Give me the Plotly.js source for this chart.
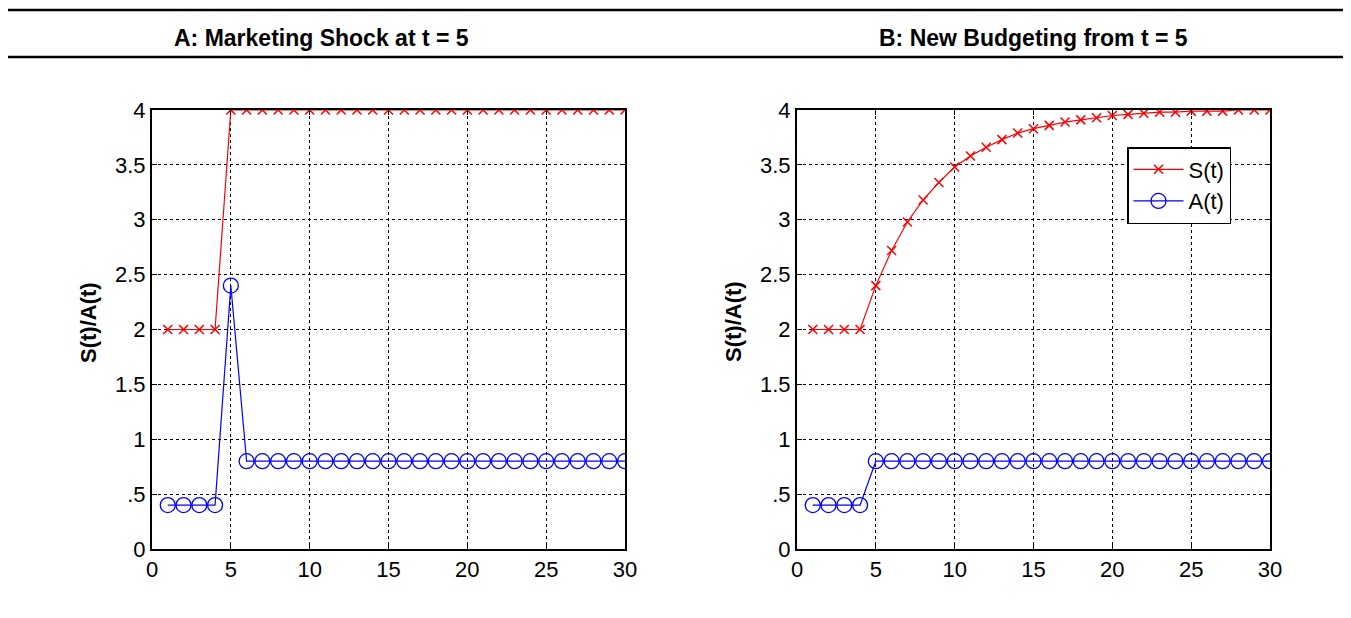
<!DOCTYPE html>
<html>
<head>
<meta charset="utf-8">
<script src="https://cdn.plot.ly/plotly-3.0.1.min.js"></script>
<style>html,body{margin:0;padding:0;background:#fff;}#chart{width:1351px;height:618px;}</style>
</head>
<body>
<div id="chart"></div>
<script>
const t = [1,2,3,4,5,6,7,8,9,10,11,12,13,14,15,16,17,18,19,20,21,22,23,24,25,26,27,28,29,30];
const sA = [2,2,2,2,4,4,4,4,4,4,4,4,4,4,4,4,4,4,4,4,4,4,4,4,4,4,4,4,4,4];
const aA = [0.4,0.4,0.4,0.4,2.4,0.8,0.8,0.8,0.8,0.8,0.8,0.8,0.8,0.8,0.8,0.8,0.8,0.8,0.8,0.8,0.8,0.8,0.8,0.8,0.8,0.8,0.8,0.8,0.8,0.8];
const sB = [2,2,2,2,2.4,2.72,2.98,3.18,3.34,3.48,3.58,3.66,3.73,3.79,3.83,3.86,3.89,3.91,3.93,3.95,3.96,3.97,3.98,3.98,3.99,3.99,3.99,4,4,4];
const aB = [0.4,0.4,0.4,0.4,0.8,0.8,0.8,0.8,0.8,0.8,0.8,0.8,0.8,0.8,0.8,0.8,0.8,0.8,0.8,0.8,0.8,0.8,0.8,0.8,0.8,0.8,0.8,0.8,0.8,0.8];
const xTicks = [0,5,10,15,20,25,30];
const yTicks = [0,0.5,1,1.5,2,2.5,3,3.5,4];
const yTickText = ['0','.5','1','1.5','2','2.5','3','3.5','4'];
const panelTitles = ['A: Marketing Shock at t = 5','B: New Budgeting from t = 5'];
const yTitle = 'S(t)/A(t)';
const seriesNames = ['S(t)','A(t)'];

const W = 1351, H = 618;
const px = v => v / W, py = v => 1 - v / H;
const FONT = 'Liberation Sans, Arial, Helvetica, sans-serif';

const sStyle = {mode:'lines+markers', line:{color:'#ff0000', width:1.2}, marker:{symbol:'x-thin-open', size:9, color:'#ff0000', line:{color:'#ff0000', width:1.5}}};
const aStyle = {mode:'lines+markers', line:{color:'#0000ff', width:1.2}, marker:{symbol:'circle-open', size:15, color:'#0000ff', line:{color:'#0000ff', width:1.3}}};

const traces = [
  Object.assign({x:t, y:sA, name:seriesNames[0], xaxis:'x', yaxis:'y', showlegend:false}, sStyle),
  Object.assign({x:t, y:aA, name:seriesNames[1], xaxis:'x', yaxis:'y', showlegend:false}, aStyle),
  Object.assign({x:t, y:sB, name:seriesNames[0], xaxis:'x2', yaxis:'y2', showlegend:true}, sStyle),
  Object.assign({x:t, y:aB, name:seriesNames[1], xaxis:'x2', yaxis:'y2', showlegend:true}, aStyle)
];

function xax(dom, anchor){
  return {domain:dom, anchor:anchor, range:[0,30], tickvals:xTicks, ticks:'inside', ticklen:5, tickcolor:'#000',
    showline:true, linecolor:'#000', linewidth:2, mirror:'ticks', showgrid:true, gridcolor:'#000', griddash:'dot', gridwidth:1,
    zeroline:false, tickfont:{family:FONT, size:22, color:'#000'}, fixedrange:true};
}
function yax(anchor){
  return {domain:[py(549), py(110)], anchor:anchor, range:[0,4], tickvals:yTicks, ticktext:yTickText, ticks:'inside', ticklen:5, tickcolor:'#000',
    showline:true, linecolor:'#000', linewidth:2, mirror:'ticks', showgrid:true, gridcolor:'#000', griddash:'dot', gridwidth:1,
    zeroline:false, tickfont:{family:FONT, size:22, color:'#000'}, fixedrange:true};
}

const layout = {
  width:W, height:H, margin:{l:0,r:0,t:0,b:0}, paper_bgcolor:'#fff', plot_bgcolor:'#fff',
  font:{family:FONT, color:'#000'},
  xaxis: xax([px(152), px(625)], 'y'),
  yaxis: yax('x'),
  xaxis2: xax([px(797), px(1270)], 'y2'),
  yaxis2: yax('x2'),
  showlegend:true,
  legend:{x:px(1127), y:py(147), xanchor:'left', yanchor:'top', xref:'paper', yref:'paper', bgcolor:'#fff', bordercolor:'#000', borderwidth:1.5,
    font:{family:FONT, size:22, color:'#000'}, tracegroupgap:0, itemwidth:50, entrywidth:108, entrywidthmode:'pixels'},
  shapes:[
    {type:'line', xref:'paper', yref:'paper', x0:px(8), x1:px(1343), y0:py(10), y1:py(10), line:{color:'#000', width:2.5}},
    {type:'line', xref:'paper', yref:'paper', x0:px(8), x1:px(1343), y0:py(57), y1:py(57), line:{color:'#000', width:2.5}}
  ],
  annotations:[
    {text:'<b>'+panelTitles[0]+'</b>', xref:'paper', yref:'paper', x:px(321), y:py(38), xanchor:'center', yanchor:'middle', showarrow:false, font:{family:FONT, size:23, color:'#000'}},
    {text:'<b>'+panelTitles[1]+'</b>', xref:'paper', yref:'paper', x:px(1033), y:py(38), xanchor:'center', yanchor:'middle', showarrow:false, font:{family:FONT, size:23, color:'#000'}},
    {text:'<b>'+yTitle+'</b>', xref:'paper', yref:'paper', x:px(88), y:py(322), xanchor:'center', yanchor:'middle', textangle:-90, showarrow:false, font:{family:FONT, size:22, color:'#000'}},
    {text:'<b>'+yTitle+'</b>', xref:'paper', yref:'paper', x:px(733), y:py(322), xanchor:'center', yanchor:'middle', textangle:-90, showarrow:false, font:{family:FONT, size:22, color:'#000'}}
  ]
};

Plotly.newPlot('chart', traces, layout, {staticPlot:true, displayModeBar:false});
</script>
</body>
</html>
